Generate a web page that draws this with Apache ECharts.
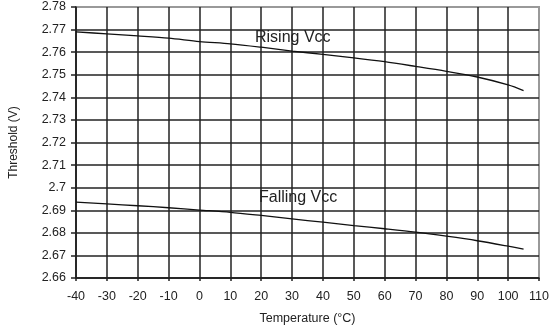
<!DOCTYPE html>
<html><head><meta charset="utf-8">
<script src="https://cdn.jsdelivr.net/npm/echarts@6/dist/echarts.min.js"></script>
<style>html,body{margin:0;padding:0;background:#fff}#c{width:552px;height:330px}</style>
</head><body><div id="c"></div>
<script>
const temps = [-40,-30,-20,-10,0,10,20,30,40,50,60,70,80,90,100,105];
const rising = [2.7690,2.7681,2.7672,2.7662,2.7647,2.7637,2.7622,2.7605,2.7590,2.7575,2.7558,2.7537,2.7515,2.7490,2.7455,2.7430];
const falling = [2.6936,2.6928,2.6920,2.6911,2.6901,2.6891,2.6877,2.6862,2.6847,2.6832,2.6818,2.6803,2.6785,2.6765,2.6741,2.6728];
const seriesNames = ['Rising Vcc','Falling Vcc'];
const xTitle = 'Temperature (°C)';
const yTitle = 'Threshold (V)';
const FONT = 'Liberation Sans, Arial, sans-serif';
const chart = echarts.init(document.getElementById('c'));
const zip = (xs, ys) => xs.map((x,i)=>[x, ys[i]]);
chart.setOption({
  animation:false,
  grid:{left:57,right:13,top:7,bottom:51,show:true,borderColor:'#999',borderWidth:2,backgroundColor:'#fff'},
  xAxis:{type:'value',min:-40,max:110,interval:10,
    name:xTitle,nameLocation:'middle',nameGap:34,
    nameTextStyle:{fontFamily:FONT,fontSize:12.5,color:'#222'},
    axisLine:{onZero:false,lineStyle:{color:'#222',width:1.5}},
    axisTick:{show:true,length:3,lineStyle:{color:'#222',width:1.5}},
    axisLabel:{fontFamily:FONT,fontSize:12.5,color:'#222',margin:12},
    splitLine:{show:true,showMaxLine:false,lineStyle:{color:'#222',width:1.5}}},
  yAxis:{type:'value',min:2.66,max:2.78,interval:0.01,
    name:yTitle,nameLocation:'middle',nameGap:56,nameRotate:90,
    nameTextStyle:{fontFamily:FONT,fontSize:12,color:'#222'},
    axisLine:{show:true,onZero:false,lineStyle:{color:'#222',width:1.5}},
    axisTick:{show:true,length:5,lineStyle:{color:'#222',width:1.5}},
    axisLabel:{fontFamily:FONT,fontSize:12.5,color:'#222',margin:10,
      formatter:v=>String(parseFloat(v.toFixed(2)))},
    splitLine:{show:true,showMaxLine:false,lineStyle:{color:'#222',width:1.5}}},
  series:[
    {name:seriesNames[0],type:'line',data:zip(temps,rising),showSymbol:false,smooth:0.3,
     lineStyle:{color:'#111',width:1.3}},
    {name:seriesNames[1],type:'line',data:zip(temps,falling),showSymbol:false,smooth:0.3,
     lineStyle:{color:'#111',width:1.3}}
  ],
  graphic:[
    {type:'text',left:255,top:30,style:{text:seriesNames[0],font:'16px '+FONT,fill:'#222'}},
    {type:'text',left:259,top:190,style:{text:seriesNames[1],font:'16px '+FONT,fill:'#222'}}
  ]
});
</script></body></html>
